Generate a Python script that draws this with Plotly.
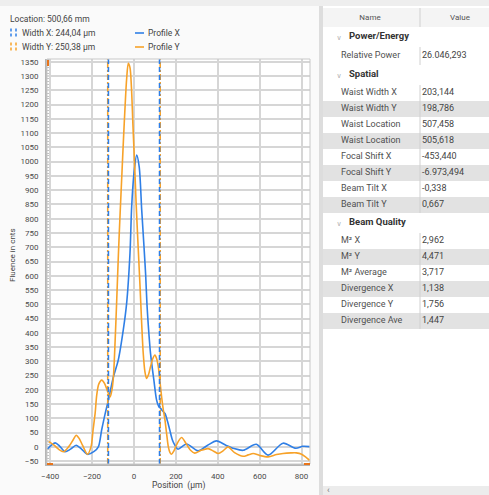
import plotly.graph_objects as go

# ---------------------------------------------------------------- data
location_mm = "500,66"
width_x_um = 244.04
width_y_um = 250.38

# Profile X (blue) – position in µm, fluence in counts
pos_x = [-415, -395, -376, -355, -329, -303, -276, -250, -222, -190, -170, -154,
         -138, -122, -98, -75, -51, -35, -19, -11, 0, 13, 25, 37, 48, 56, 62, 68,
         79, 95, 108, 118, 127, 138, 148, 160, 171, 183, 195, 210, 251, 306, 350,
         394, 440, 478, 521, 584, 640, 711, 772, 805, 838]
fluence_x = [-9, 5, 14, 3, -17, -8, 6, -8, -26, -16, 0, 60,
             115, 164, 246, 304, 410, 503, 679, 842, 959, 1023, 982, 830, 700, 600, 500, 430,
             328, 234, 164, 142, 135, 125, 117, 90, 59, 25, 6, -8, 10, -14, 5,
             21, 5, -6, -12, 9, -29, 13, -5, 2, 1]

# Profile Y (orange)
pos_y = [-415, -400, -380, -360, -336, -310, -290, -276, -262, -245, -222, -205,
         -195, -185, -178, -168, -154, -140, -126, -114, -105, -98, -90, -82, -74,
         -66, -58, -50, -42, -35, -27, -19, -12, -5, 3, 10, 20, 29, 37, 44, 52, 60,
         70, 79, 90, 100, 108, 116, 124, 132, 140, 148, 156, 164, 172, 179, 190,
         205, 227, 250, 270, 290, 320, 354, 380, 402, 425, 449, 480, 521, 545, 569,
         600, 640, 680, 711, 750, 775, 800, 820, 838]
fluence_y = [21, 16, 5, -8, -17, 2, 25, 41, 30, 5, -26, 0,
             60, 120, 180, 220, 234, 222, 195, 175, 200, 246, 370, 520, 680,
             820, 950, 1080, 1200, 1290, 1345, 1330, 1260, 1130, 990, 860, 700, 561, 430, 330, 265, 240,
             255, 281, 310, 322, 310, 281, 230, 175, 130, 94, 45, 0, -20, -26, -15,
             10, 33, 10, -12, -22, -12, -6, -15, -23, -14, 0, -20, -33, -28, -23,
             -30, -35, -27, -23, -21, -21, -26, -36, -47]

x_ticks = [-400, -200, 0, 200, 400, 600, 800]

# Result table
sections = ["Power/Energy", "Spatial", "Beam Quality"]
section_names = [
    ["Relative Power"],
    ["Waist Width X", "Waist Width Y", "Waist Location", "Waist Location",
     "Focal Shift X", "Focal Shift Y", "Beam Tilt X", "Beam Tilt Y"],
    ["M² X", "M² Y", "M² Average", "Divergence X", "Divergence Y", "Divergence Ave"],
]
section_values = [
    ["26.046,293"],
    ["203,144", "198,786", "507,458", "505,618", "-453,440", "-6.973,494", "-0,338", "0,667"],
    ["2,962", "4,471", "3,717", "1,138", "1,756", "1,447"],
]

# ---------------------------------------------------------------- style
W, H = 489, 495
BLUE = "#2f7fe6"
ORANGE = "#f7a229"
GRID = "#d6d6d6"
FONT = "Roboto"


def px(xp):
    return xp / W


def py(yp):
    return 1 - yp / H


plot_l, plot_r, plot_t, plot_b = 47, 310, 59, 464
x_range = [-415, 840]
y_range = [-60, 1360]

fig = go.Figure()

# width markers (drawn from the width values, centred on 0)
shapes = []
for w, col, dash in [(width_y_um, ORANGE, "6px,2px,2px,2px"), (width_x_um, BLUE, "5px,3px")]:
    for s in (-1, 1):
        shapes.append(dict(type="line", xref="x", yref="y domain",
                           x0=s * w / 2, x1=s * w / 2, y0=0, y1=1,
                           line=dict(color=col, width=1.6, dash=dash), layer="above"))

fig.add_trace(go.Scatter(x=pos_x, y=fluence_x, mode="lines", name="Profile X",
                         line=dict(color=BLUE, width=1.6, shape="spline", smoothing=0.8),
                         hoverinfo="skip"))
fig.add_trace(go.Scatter(x=pos_y, y=fluence_y, mode="lines", name="Profile Y",
                         line=dict(color=ORANGE, width=1.6, shape="spline", smoothing=0.8),
                         hoverinfo="skip"))

# ---------------------------------------------------------------- table (right panel)
TL = 323                # left edge of table panel in px
TW = W - TL             # table width
COL = 97                # name column width
header = (8, 27)
group_h = 20
section_row_h = [18, 16, 16]

row_center, row_height, row_color = [], [], []
name_y, name_t = [], []
val_y, val_t = [], []
grp_y, grp_t = [], []
divider_x, divider_y = [], []

y = header[1]
for si, sec in enumerate(sections):
    grp_y.append(y + group_h / 2)
    grp_t.append(sec)
    row_center.append(y + group_h / 2)
    row_height.append(group_h)
    row_color.append("#ffffff")
    y += group_h
    start = y
    rh = section_row_h[si]
    for ri, (n, v) in enumerate(zip(section_names[si], section_values[si])):
        c = y + rh / 2
        row_center.append(c)
        row_height.append(rh)
        row_color.append("#e2e2e2" if ri % 2 == 1 else "#ffffff")
        name_y.append(c)
        name_t.append(n)
        val_y.append(c)
        val_t.append(v)
        y += rh
    divider_x += [COL, COL, None]
    divider_y += [start, y, None]

# header background + divider
row_center.insert(0, sum(header) / 2)
row_height.insert(0, header[1] - header[0])
row_color.insert(0, "#f4f4f4")
divider_x += [COL, COL]
divider_y += [header[0], header[1]]

fig.add_trace(go.Bar(orientation="h", y=row_center, x=[TW] * len(row_center), base=0,
                     width=row_height, marker=dict(color=row_color, line=dict(width=0)),
                     xaxis="x2", yaxis="y2", hoverinfo="skip", showlegend=False))
fig.add_trace(go.Scatter(x=divider_x, y=divider_y, mode="lines", xaxis="x2", yaxis="y2",
                         line=dict(color="#d0d0d0", width=1), hoverinfo="skip", showlegend=False))
fig.add_trace(go.Scatter(x=[47, 137], y=[sum(header) / 2] * 2, text=["Name", "Value"],
                         mode="text", textposition="middle center", xaxis="x2", yaxis="y2",
                         textfont=dict(family=FONT, size=8, color="#555555"),
                         hoverinfo="skip", showlegend=False))
fig.add_trace(go.Scatter(x=[16] * len(grp_y), y=[g + 1 for g in grp_y], text=["∨"] * len(grp_y),
                         mode="text", textposition="middle center", xaxis="x2", yaxis="y2",
                         textfont=dict(family="DejaVu Sans", size=7, color="#b0b0b0"),
                         hoverinfo="skip", showlegend=False))
fig.add_trace(go.Scatter(x=[26] * len(grp_y), y=grp_y, text=["<b>%s</b>" % t for t in grp_t],
                         mode="text", textposition="middle right", xaxis="x2", yaxis="y2",
                         textfont=dict(family=FONT, size=9.5, color="#333333"),
                         hoverinfo="skip", showlegend=False))
fig.add_trace(go.Scatter(x=[18] * len(name_y), y=name_y, text=name_t,
                         mode="text", textposition="middle right", xaxis="x2", yaxis="y2",
                         textfont=dict(family=FONT, size=9, color="#505050"),
                         hoverinfo="skip", showlegend=False))
fig.add_trace(go.Scatter(x=[99] * len(val_y), y=val_y, text=val_t,
                         mode="text", textposition="middle right", xaxis="x2", yaxis="y2",
                         textfont=dict(family=FONT, size=9, color="#444444"),
                         hoverinfo="skip", showlegend=False))

# ---------------------------------------------------------------- decorations
# panel separators, top strip, scrollbar
shapes += [
    dict(type="rect", xref="paper", yref="paper", x0=0, x1=1, y0=py(6), y1=1,
         fillcolor="#eeeeee", line=dict(width=0), layer="below"),
    dict(type="rect", xref="paper", yref="paper", x0=px(319), x1=px(TL), y0=0, y1=py(6),
         fillcolor="#dddddd", line=dict(width=0), layer="below"),
    dict(type="rect", xref="paper", yref="paper", x0=px(TL), x1=1, y0=0, y1=py(486),
         fillcolor="#ececec", line=dict(width=0), layer="below"),
    dict(type="rect", xref="paper", yref="paper", x0=px(plot_l), x1=px(plot_r),
         y0=py(plot_b), y1=py(plot_t), line=dict(color="#c8c8c8", width=1), layer="above"),
    # orange range handles on the axes
    dict(type="line", xref="paper", yref="paper", x0=px(48), x1=px(48), y0=py(60), y1=py(66),
         line=dict(color="#e8741a", width=2), layer="above"),
    dict(type="line", xref="paper", yref="paper", x0=px(47), x1=px(53), y0=py(464), y1=py(464),
         line=dict(color="#e8741a", width=2), layer="above"),
    dict(type="line", xref="paper", yref="paper", x0=px(304), x1=px(310), y0=py(464), y1=py(464),
         line=dict(color="#e8741a", width=2), layer="above"),
]

# legend glyphs
for yc, col, dash in [(33, BLUE, "3px,2px"), (47, ORANGE, "3px,2px")]:
    for xc in (11, 16):
        shapes.append(dict(type="line", xref="paper", yref="paper", x0=px(xc), x1=px(xc),
                           y0=py(yc - 4.5), y1=py(yc + 4.5),
                           line=dict(color=col, width=1.5, dash=dash)))
    shapes.append(dict(type="line", xref="paper", yref="paper", x0=px(135), x1=px(144),
                       y0=py(yc), y1=py(yc), line=dict(color=col, width=1.6)))

annotations = [
    dict(text="Location: %s mm" % location_mm, x=px(8), y=py(19)),
    dict(text="Width X: %s µm" % f"{width_x_um:.2f}".replace(".", ","), x=px(20), y=py(33)),
    dict(text="Width Y: %s µm" % f"{width_y_um:.2f}".replace(".", ","), x=px(20), y=py(47)),
    dict(text="Profile X", x=px(146), y=py(33)),
    dict(text="Profile Y", x=px(146), y=py(47)),
]
for a in annotations:
    a.update(xref="paper", yref="paper", xanchor="left", yanchor="middle", showarrow=False,
             font=dict(family=FONT, size=8.5, color="#444444"))
annotations += [
    dict(text="Position  (µm)", x=px((plot_l + plot_r) / 2), y=py(485), xref="paper", yref="paper",
         xanchor="center", yanchor="middle", showarrow=False,
         font=dict(family=FONT, size=8.5, color="#444444")),
    dict(text="Fluence in cnts", x=px(12), y=py(255), xref="paper", yref="paper", textangle=-90,
         xanchor="center", yanchor="middle", showarrow=False,
         font=dict(family=FONT, size=8, color="#444444")),
    dict(text="‹", x=px(328), y=py(490), xref="paper", yref="paper", xanchor="center",
         yanchor="middle", showarrow=False, font=dict(family=FONT, size=9, color="#777777")),
]

fig.update_layout(
    width=W, height=H, margin=dict(l=0, r=0, t=0, b=0, autoexpand=False),
    paper_bgcolor="#fafafa", plot_bgcolor="#ffffff",
    showlegend=False, bargap=0,
    font=dict(family=FONT, size=8, color="#555555"),
    xaxis=dict(domain=[px(plot_l), px(plot_r)], range=x_range, tickvals=x_ticks,
               showgrid=True, gridcolor=GRID, gridwidth=1.5, zeroline=False,
               showline=True, linecolor="#b5b5b5", linewidth=2, ticks="",
               ticklabelstandoff=3, automargin=False,
               tickfont=dict(family=FONT, size=8, color="#4a4a4a"), fixedrange=True),
    yaxis=dict(domain=[py(plot_b), py(plot_t)], range=y_range, dtick=50, tick0=0,
               showgrid=True, gridcolor=GRID, gridwidth=1.5, zeroline=False,
               showline=True, linecolor="#b5b5b5", linewidth=2, ticks="",
               ticklabelstandoff=5, automargin=False,
               minor=dict(ticks="inside", ticklen=2, dtick=10, tickcolor="#c0c0c0", showgrid=False),
               tickfont=dict(family=FONT, size=8, color="#4a4a4a"), fixedrange=True),
    xaxis2=dict(domain=[px(TL), 1], range=[0, TW], visible=False, anchor="y2",
                automargin=False, fixedrange=True),
    yaxis2=dict(domain=[0, 1], range=[H, 0], visible=False, anchor="x2",
                automargin=False, fixedrange=True),
    shapes=shapes, annotations=annotations,
)

fig.write_html("out.html")
